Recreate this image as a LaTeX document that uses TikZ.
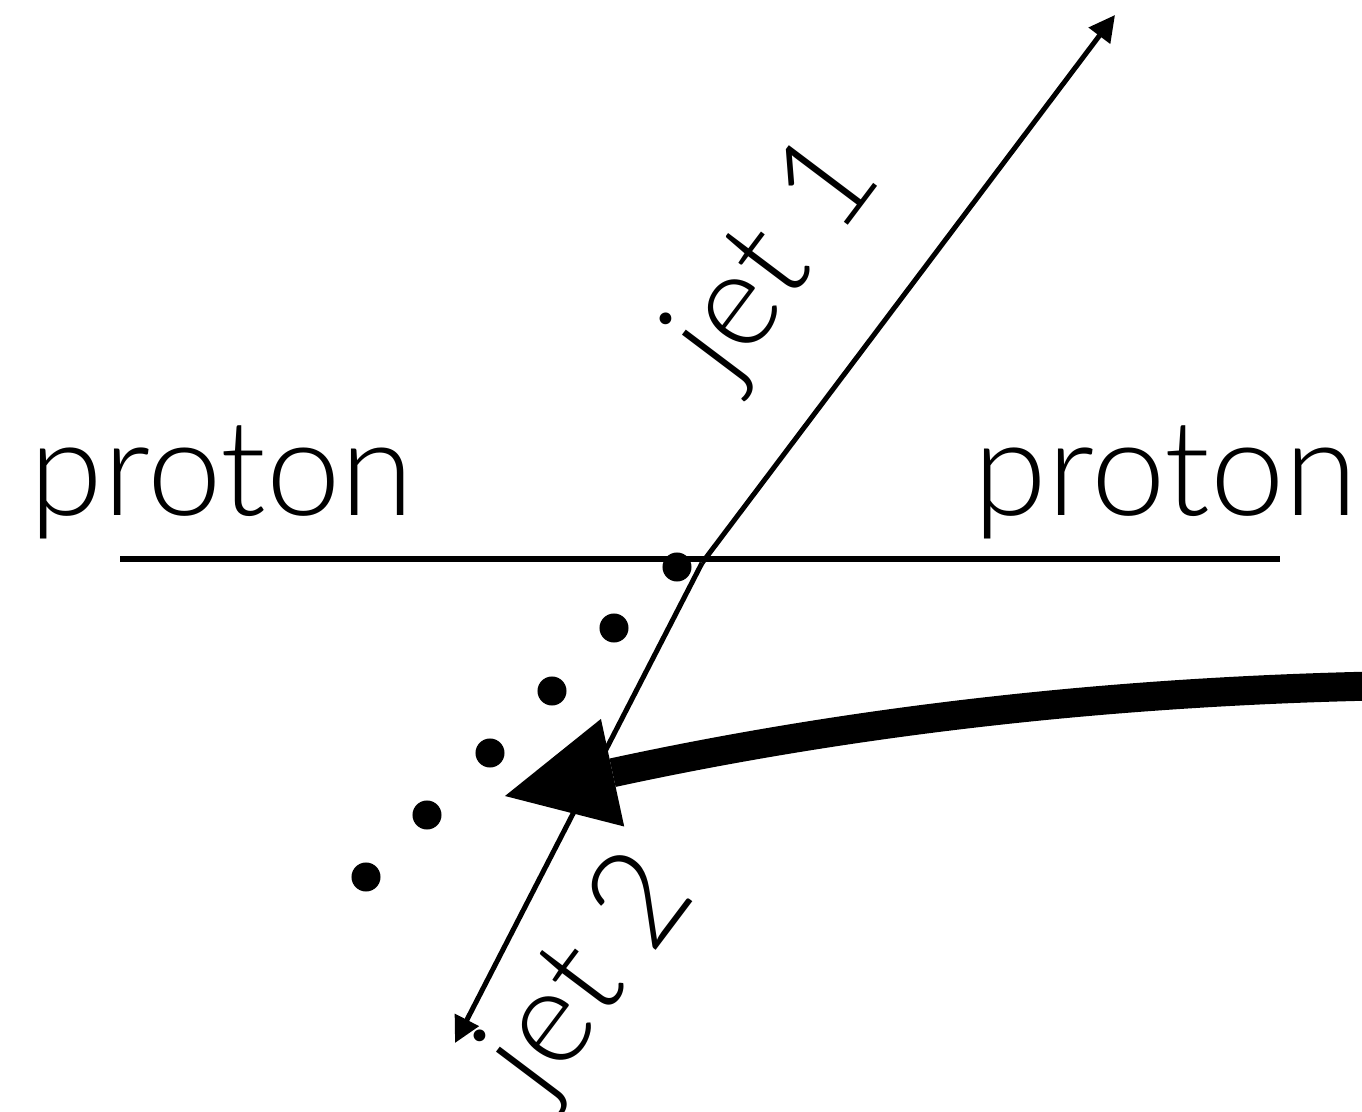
\documentclass[tikz,border=0pt]{standalone}
\usepackage{fontspec}
\newfontfamily\jetfont{Lato Light}
\usepackage{tikz}
\usetikzlibrary{arrows.meta, positioning}
\tikzstyle{beam} = [line width=0.055cm]
\tikzstyle{jet} = [line width=0.05cm, -{Triangle[length=0.26cm, width=0.26cm]}]
\tikzstyle{dot} = [circle, fill=black, inner sep=0pt, minimum size=0.29cm]
\tikzstyle{lbl} = [font=\jetfont\fontsize{38pt}{40pt}\selectfont, inner sep=0pt, anchor=base]
\tikzstyle{bigarrow} = [line width=0.29cm, -{Triangle[length=1.1cm, width=1.1cm, line width=0pt]}]

\begin{document}
\begin{tikzpicture}[x=0.01cm, y=-0.01cm]
\useasboundingbox (0,0) rectangle (1362,1112);
\coordinate (vtx) at (702,563);
\coordinate (beamL) at (120,559);
\coordinate (beamR) at (1280,559);
\coordinate (tip1) at (1115,15);
\coordinate (tip2) at (455,1043);
\coordinate (src) at (1375,686);
\coordinate (hit) at (505,796);

\draw [beam] (beamL) -- (beamR);
\node (pleft) [lbl] at (222,515) {proton};
\node (pright) [lbl] at (1166,515) {proton};

% the shower of dots
\node (d1) [dot] at (677,567) {};
\node (d2) [dot] at (614,628) {};
\node (d3) [dot] at (552,691) {};
\node (d4) [dot] at (490,753) {};
\node (d5) [dot] at (427,815) {};
\node (d6) [dot] at (366,877) {};

\draw [jet] (vtx) -- (tip1);
\draw [jet] (vtx) -- (tip2);
\node (jone) [lbl, rotate=53] at (806,281) {jet 1};
\node (jtwo) [lbl, rotate=53] at (620,998) {jet 2};

\draw [bigarrow] (src) .. controls (1100,692) and (847,722) .. (hit);
\end{tikzpicture}
\end{document}
